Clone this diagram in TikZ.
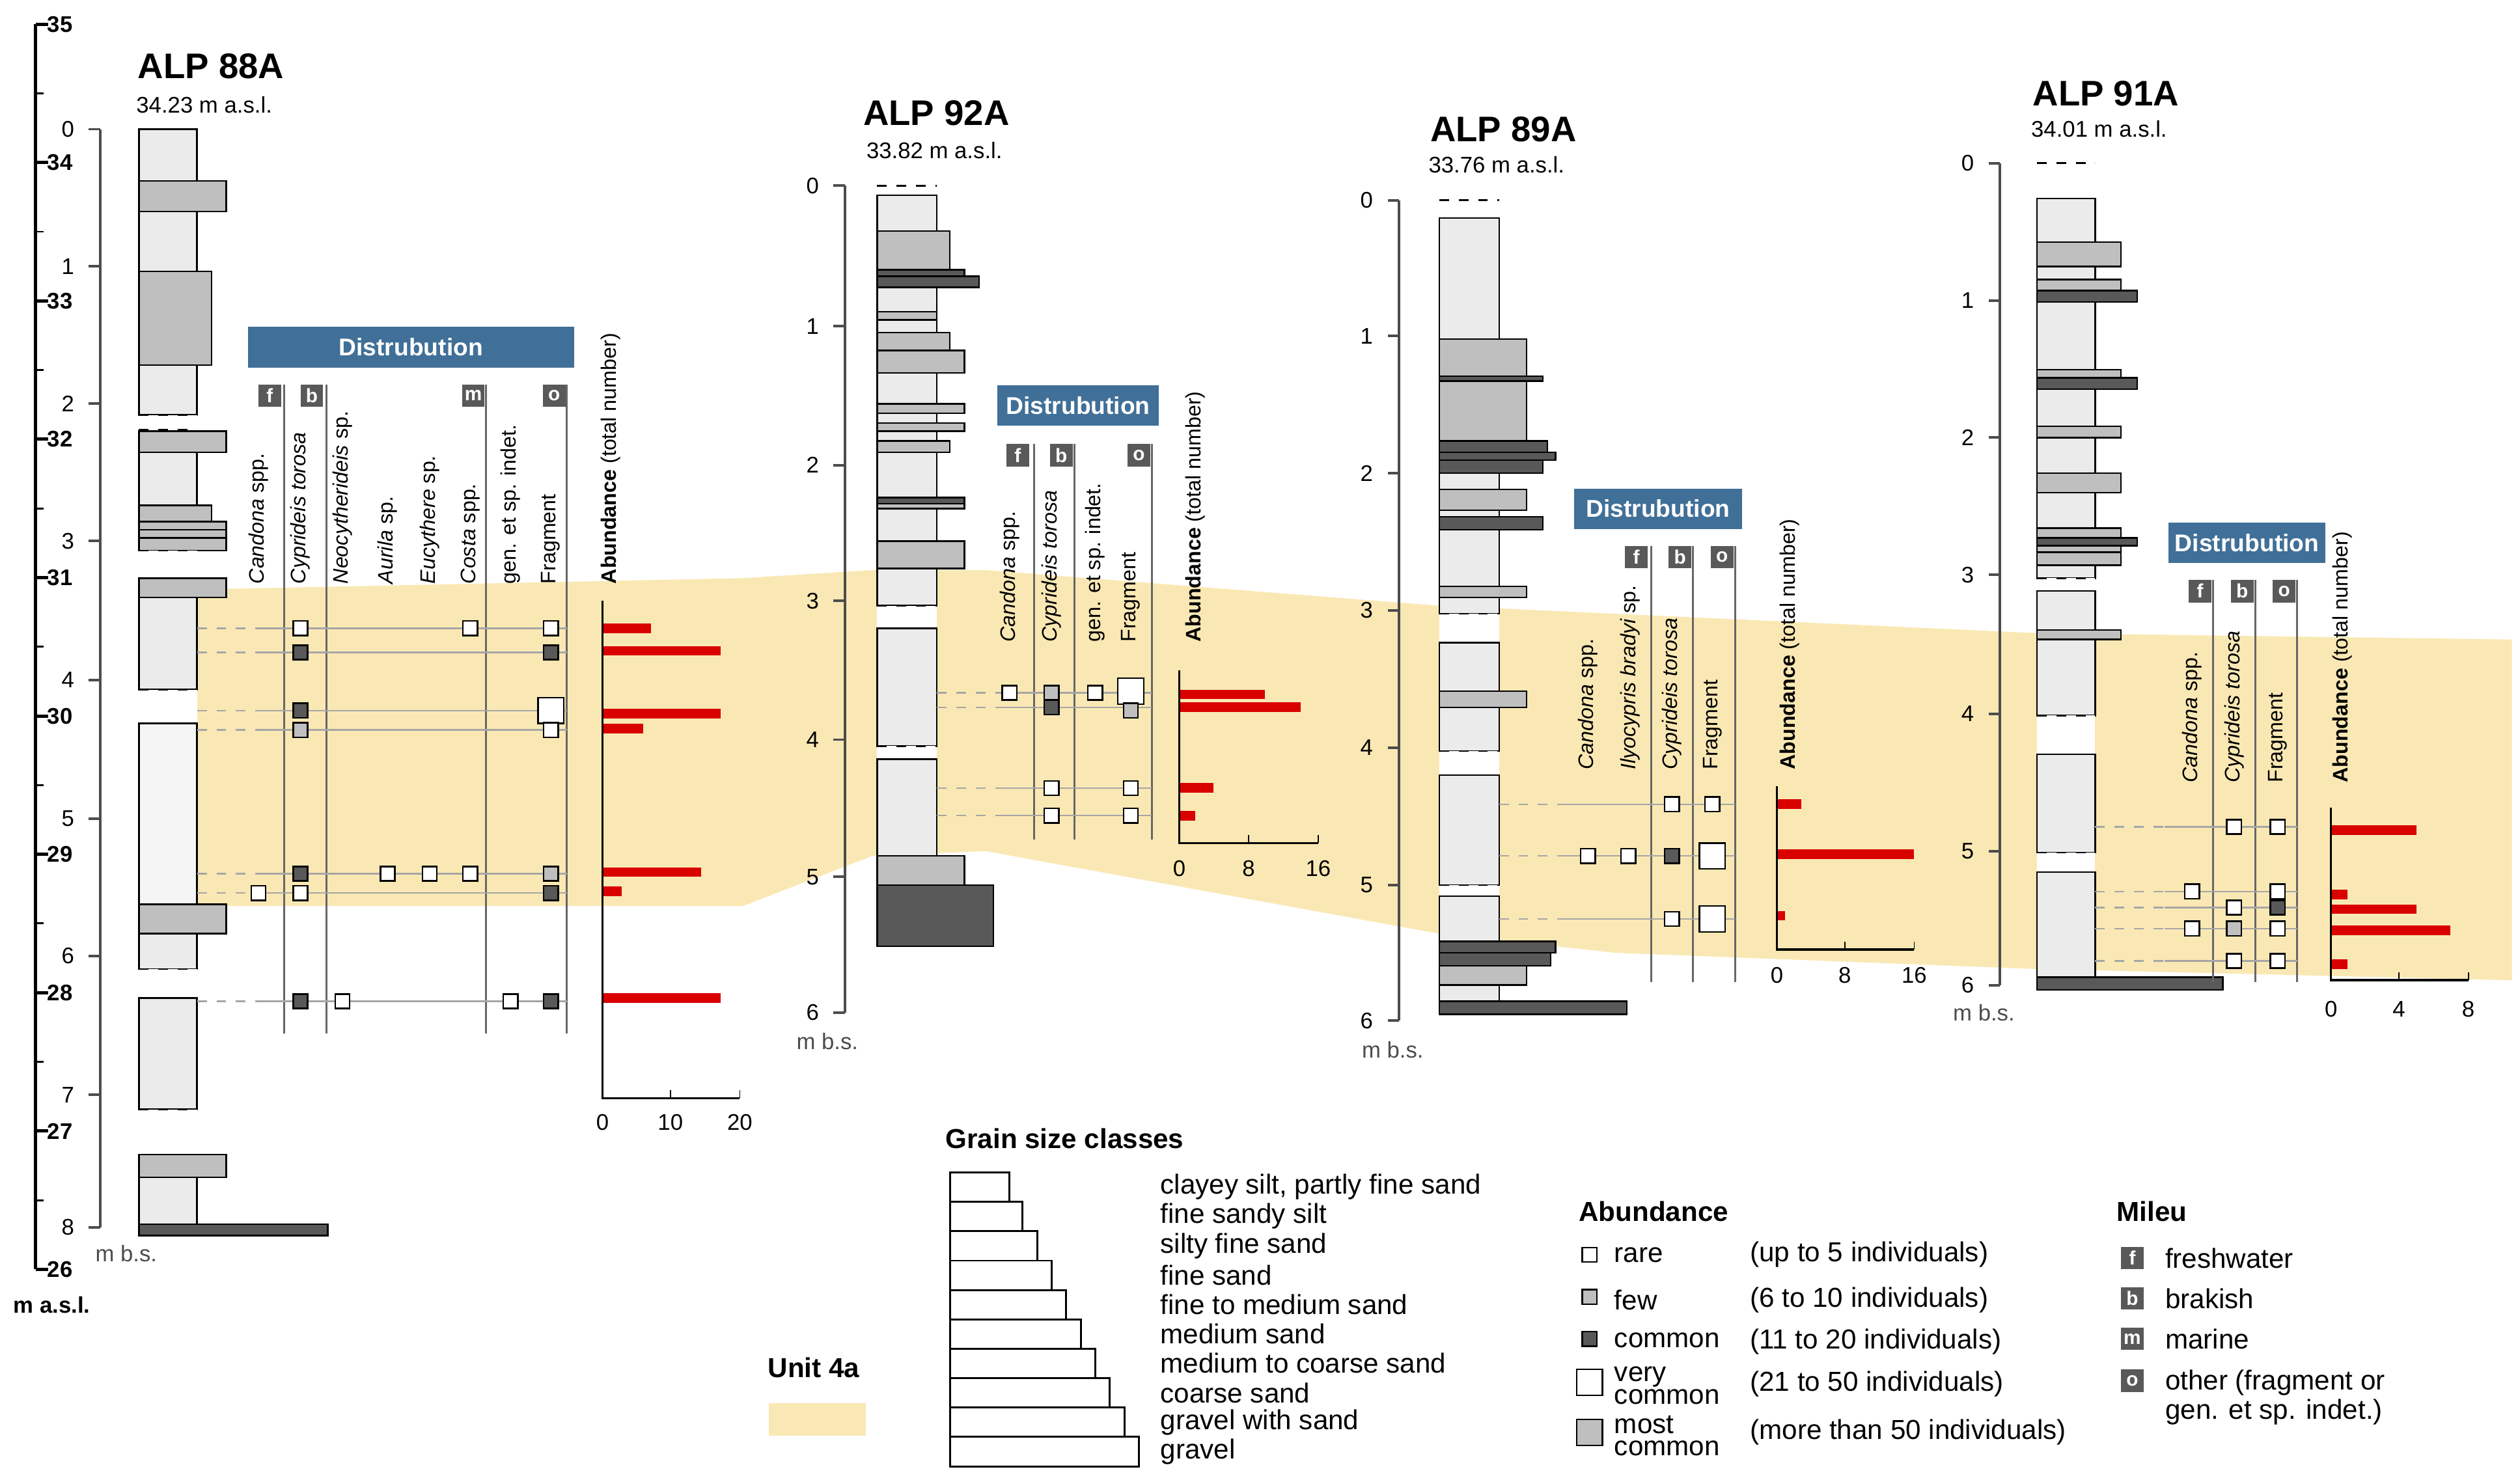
\documentclass[tikz,border=0pt]{standalone}
\usepackage{fontspec}
\setmainfont{Liberation Sans}
\begin{document}
\begin{tikzpicture}[x=0.5pt,y=-0.5pt,
 lay/.style={draw=black,line width=0.5pt},
 ban/.style={fill=blue!30!teal!70!black!75!white,text=white,font=\bfseries\fontsize{7.5}{8}\selectfont,anchor=west,inner sep=2pt},
 badge/.style={fill=black!65,text=white,font=\bfseries\fontsize{6}{6}\selectfont,minimum size=7pt,inner sep=0pt},
 clab/.style={rotate=90,anchor=west,font=\itshape\fontsize{6.5}{7}\selectfont,inner sep=0pt},
 alab/.style={rotate=90,anchor=west,font=\fontsize{6.5}{7}\selectfont,inner sep=0pt},
 vl/.style={black!60,line width=0.6pt},
 rare/.style={draw=black,fill=white,minimum size=4.5pt,inner sep=0pt,line width=0.5pt},
 few/.style={rare,fill=black!25},
 com/.style={rare,fill=black!65},
 vc/.style={rare,minimum size=8pt},
 mc/.style={vc,fill=black!25},
 bar/.style={fill=red!85!black,draw=none},
 ax/.style={black!70,line width=0.8pt},
 tl/.style={font=\fontsize{7}{8}\selectfont},
 ttl/.style={font=\bfseries\fontsize{11}{12}\selectfont,anchor=west,inner sep=0pt},
 sub/.style={font=\fontsize{7}{8}\selectfont,anchor=west,inner sep=0pt},
 leg/.style={font=\fontsize{8.5}{9}\selectfont,anchor=west,inner sep=0pt}]
\useasboundingbox (0,0) rectangle (1560,915);
\colorlet{lt}{black!8}
\colorlet{md}{black!25}
\colorlet{dk}{black!65}
\definecolor{yel}{HTML}{FAE8B4}
\newcommand\ly[4]{\draw[lay,fill=#4] (\cX,#1) rectangle (#3,#2);}
\newcommand\gp[2]{\fill[white] (\cX,#1) rectangle (\cR,#2);\draw[dashed,line width=0.5pt] (\cX,#1)--(\cR,#1) (\cX,#2)--(\cR,#2);}
\newcommand\rw[4]{\draw[black!35,dashed,line width=0.5pt] (#1,#3)--(#2,#3);\draw[black!35,line width=0.5pt] (#2,#3)--(#4,#3);}
\newcommand\br[3]{\fill[bar] (#1,#3-3) rectangle (#2,#3+3);}
% band
\fill[yel] (122,365)--(460,358)--(540,353)--(610,353)--(890,375)--(1260,392)--(1555,396)--(1555,607)--(1260,600)--(1000,590)--(890,578)--(610,527)--(540,530)--(460,561)--(122,561)--cycle;
% elevation axis
\draw[black,line width=1pt] (22,15)--(22,786);
\foreach \v [count=\i from 0] in {35,34,33,32,31,30,29,28,27,26}{
 \draw[black,line width=1pt] (22,15+85.67*\i)--(30,15+85.67*\i);
 \node[font=\bfseries\fontsize{7}{8}\selectfont,anchor=west,inner sep=0pt] at (29,{15+85.67*\i}) {\v};}
\foreach \i in {0,...,8}{\draw[black,line width=0.6pt] (22,{15+85.67*\i+42.8})--(27,{15+85.67*\i+42.8});}
\node[font=\bfseries\fontsize{7}{8}\selectfont,anchor=west,inner sep=0pt] at (8,808) {m a.s.l.};

% ===== ALP 88A
\node[ttl] (t88) at (85,41) {ALP 88A};
\node[sub] (s88) at (84,65) {34.23 m a.s.l.};
\draw[ax] (62,80)--(62,760);
\foreach \d/\y in {0/80,1/165,2/250,3/335,4/421,5/507,6/592,7/678,8/760}{\draw[ax] (55,\y)--(62,\y); \node[tl,anchor=east] at (53,\y) {\d};}
\node[tl,anchor=west,text=black!70] at (52,776) {m b.s.};
\def\cX{86}\def\cR{122}
\ly{80}{112}{122}{lt}\ly{112}{131}{140}{md}\ly{131}{168}{122}{lt}\ly{168}{226}{131}{md}\ly{226}{257}{122}{lt}\gp{257}{266}
\ly{267}{280}{140}{md}\ly{280}{313}{122}{lt}\ly{313}{323}{131}{md}\ly{323}{328}{140}{md}\ly{328}{333}{140}{md}\ly{333}{341}{140}{md}\gp{341}{358}
\ly{358}{370}{140}{md}\ly{370}{427}{122}{lt}\gp{427}{448}\ly{448}{560}{122}{black!4}\ly{560}{578}{140}{md}\ly{578}{600}{122}{lt}\gp{600}{618}
\ly{618}{687}{122}{lt}\gp{687}{715}\ly{715}{729}{140}{md}\ly{729}{758}{122}{lt}\ly{758}{765}{203}{dk}
\node[ban,minimum width=101pt,minimum height=12.5pt] (b88) at (153,215) {Distrubution};
\node[clab] at (160,362) {Candona\upshape{} spp.};
\node[clab] at (186,362) {Cyprideis torosa};
\node[clab] at (212,362) {Neocytherideis\upshape{} sp.};
\node[clab] at (240,362) {Aurila\upshape{} sp.};
\node[clab] at (266,362) {Eucythere\upshape{} sp.};
\node[clab] at (291,362) {Costa\upshape{} spp.};
\node[alab] at (316,362) {gen. et sp. indet.};
\node[alab] at (341,362) {Fragment};
\node[alab] at (378,362) {\textbf{Abundance} (total number)};
\foreach \x/\l in {167/f,193/b,293/m,343/o}{\node[badge] at (\x,245) {\l};}
\foreach \x in {176,202,301,351}{\draw[vl] (\x,238)--(\x,640);}
\foreach \y in {389,404,440,452,541,553,620}{\rw{122}{160}{\y}{351}}
\node[rare] at (186,389){};\node[rare] at (291,389){};\node[rare] at (341,389){};
\node[com] at (186,404){};\node[com] at (341,404){};
\node[com] at (186,440){};\node[vc] at (341,440){};
\node[few] at (186,452){};\node[rare] at (341,452){};
\node[com] at (186,541){};\node[rare] at (240,541){};\node[rare] at (266,541){};\node[rare] at (291,541){};\node[few] at (341,541){};
\node[rare] at (160,553){};\node[rare] at (186,553){};\node[com] at (341,553){};
\node[com] at (186,620){};\node[rare] at (212,620){};\node[rare] at (316,620){};\node[com] at (341,620){};
\br{373}{403}{389}\br{373}{446}{403}\br{373}{446}{442}\br{373}{398}{451}\br{373}{434}{540}\br{373}{385}{552}\br{373}{446}{618}
\draw[black,line width=0.7pt] (373,372)--(373,680)--(458,680);
\foreach \x/\l in {373/0,415/10,458/20}{\draw (\x,680)--(\x,675);\node[tl] at (\x,695) {\l};}

% ===== ALP 92A
\node[ttl] at (534,70) {ALP 92A};
\node[sub] at (536,93) {33.82 m a.s.l.};
\draw[ax] (523,115)--(523,627);
\foreach \d/\y in {0/115,1/202,2/288,3/372,4/458,5/543,6/627}{\draw[ax] (516,\y)--(523,\y); \node[tl,anchor=east] at (514,\y) {\d};}
\node[tl,anchor=west,text=black!70] at (486,645) {m b.s.};
\def\cX{543}\def\cR{580}
\gp{115}{121}\ly{121}{143}{580}{lt}\ly{143}{167}{588}{md}\ly{167}{171}{597}{dk}\ly{171}{178}{606}{dk}\ly{178}{193}{580}{lt}\ly{193}{198}{580}{md}\ly{198}{206}{580}{lt}
\ly{206}{217}{588}{md}\ly{217}{231}{597}{md}\ly{231}{250}{580}{lt}\ly{250}{256}{597}{md}\ly{256}{262}{580}{lt}\ly{262}{267}{597}{md}\ly{267}{273}{580}{lt}
\ly{273}{280}{588}{md}\ly{280}{308}{580}{lt}\ly{308}{312}{597}{dk}\ly{312}{315}{597}{md}\ly{315}{335}{580}{lt}\ly{335}{352}{597}{md}\ly{352}{375}{580}{lt}\gp{375}{389}
\ly{389}{462}{580}{lt}\gp{462}{470}\ly{470}{530}{580}{lt}\ly{530}{548}{597}{md}\ly{548}{586}{615}{dk}
\node[ban,minimum width=50pt,minimum height=12.5pt] (b92) at (617,251) {Distrubution};
\node[clab] at (625,398) {Candona\upshape{} spp.};
\node[clab] at (651,398) {Cyprideis torosa};
\node[alab] at (678,398) {gen. et sp. indet.};
\node[alab] at (700,398) {Fragment};
\node[alab] at (740,398) {\textbf{Abundance} (total number)};
\foreach \x/\l in {630/f,657/b,705/o}{\node[badge] at (\x,282) {\l};}
\foreach \x in {640,665,713}{\draw[vl] (\x,275)--(\x,520);}
\foreach \y in {429,438,488,505}{\rw{580}{620}{\y}{713}}
\node[rare] at (625,429){};\node[few] at (651,429){};\node[rare] at (678,429){};\node[vc] at (700,428){};
\node[com] at (651,438){};\node[few] at (700,440){};
\node[rare] at (651,488){};\node[rare] at (700,488){};
\node[rare] at (651,505){};\node[rare] at (700,505){};
\br{730}{783}{430}\br{730}{805}{438}\br{730}{751}{488}\br{730}{740}{505}
\draw[black,line width=0.7pt] (730,415)--(730,522)--(816,522);
\foreach \x/\l in {730/0,773/8,816/16}{\draw (\x,522)--(\x,517);\node[tl] at (\x,538) {\l};}

% ===== ALP 89A
\node[ttl] at (885,80) {ALP 89A};
\node[sub] at (884,102) {33.76 m a.s.l.};
\draw[ax] (866,124)--(866,632);
\foreach \d/\y in {0/124,1/208,2/293,3/378,4/463,5/548,6/632}{\draw[ax] (859,\y)--(866,\y); \node[tl,anchor=east] at (857,\y) {\d};}
\node[tl,anchor=west,text=black!70] at (836,650) {m b.s.};
\def\cX{891}\def\cR{928}
\gp{124}{135}\ly{135}{210}{928}{lt}\ly{210}{233}{945}{md}\ly{233}{236}{955}{dk}\ly{236}{273}{945}{md}\ly{273}{280}{958}{dk}\ly{280}{285}{963}{dk}\ly{285}{293}{955}{dk}
\ly{293}{303}{928}{lt}\ly{303}{316}{945}{md}\ly{316}{320}{928}{lt}\ly{320}{328}{955}{dk}\ly{328}{363}{928}{lt}\ly{363}{370}{945}{md}\ly{370}{380}{928}{lt}\gp{380}{398}
\ly{398}{428}{928}{lt}\ly{428}{438}{945}{md}\ly{438}{465}{928}{lt}\gp{465}{480}\ly{480}{548}{928}{lt}\gp{548}{555}\ly{555}{583}{928}{lt}
\ly{583}{590}{963}{dk}\ly{590}{598}{960}{dk}\ly{598}{610}{945}{md}\ly{610}{620}{928}{lt}\ly{620}{628}{1007}{dk}
\node[ban,minimum width=52pt,minimum height=12.5pt] (b89) at (974,315) {Distrubution};
\node[clab] at (983,477) {Candona\upshape{} spp.};
\node[clab] at (1009,477) {Ilyocypris bradyi\upshape{} sp.};
\node[clab] at (1035,477) {Cyprideis torosa};
\node[alab] at (1060,477) {Fragment};
\node[alab] at (1108,477) {\textbf{Abundance} (total number)};
\foreach \x/\l in {1013/f,1040/b,1066/o}{\node[badge] at (\x,345) {\l};}
\foreach \x in {1022,1048,1074}{\draw[vl] (\x,338)--(\x,608);}
\foreach \y in {498,530,569}{\rw{928}{970}{\y}{1074}}
\node[rare] at (1035,498){};\node[rare] at (1060,498){};
\node[rare] at (983,530){};\node[rare] at (1008,530){};\node[com] at (1035,530){};\node[vc] at (1060,530){};
\node[rare] at (1035,569){};\node[vc] at (1060,569){};
\br{1100}{1115}{498}\br{1100}{1185}{529}\br{1100}{1105}{567}
\draw[black,line width=0.7pt] (1100,487)--(1100,588)--(1185,588);
\foreach \x/\l in {1100/0,1142/8,1185/16}{\draw (\x,588)--(\x,583);\node[tl] at (\x,604) {\l};}

% ===== ALP 91A
\node[ttl] at (1258,58) {ALP 91A};
\node[sub] at (1257,80) {34.01 m a.s.l.};
\draw[ax] (1238,101)--(1238,610);
\foreach \d/\y in {0/101,1/186,2/271,3/356,4/442,5/527,6/610}{\draw[ax] (1231,\y)--(1238,\y); \node[tl,anchor=east] at (1229,\y) {\d};}
\node[tl,anchor=west,text=black!70] at (1202,627) {m b.s.};
\def\cX{1261}\def\cR{1297}
\gp{101}{123}\ly{123}{150}{1297}{lt}\ly{150}{165}{1313}{md}\ly{165}{173}{1297}{lt}\ly{173}{180}{1313}{md}\ly{180}{187}{1323}{dk}\ly{187}{229}{1297}{lt}
\ly{229}{234}{1313}{md}\ly{234}{241}{1323}{dk}\ly{241}{264}{1297}{lt}\ly{264}{271}{1313}{md}\ly{271}{293}{1297}{lt}\ly{293}{305}{1313}{md}\ly{305}{327}{1297}{lt}
\ly{327}{333}{1313}{md}\ly{333}{338}{1323}{dk}\ly{338}{342}{1313}{md}\ly{342}{350}{1313}{md}\ly{350}{358}{1297}{lt}\gp{358}{366}\ly{366}{390}{1297}{lt}
\ly{390}{396}{1313}{md}\ly{396}{443}{1297}{lt}\gp{443}{467}\ly{467}{528}{1297}{lt}\gp{528}{540}\ly{540}{605}{1297}{lt}\ly{605}{613}{1376}{dk}
\node[ban,minimum width=44pt,minimum height=12.5pt] (b91) at (1342,336) {Distrubution};
\node[clab] at (1357,485) {Candona\upshape{} spp.};
\node[clab] at (1383,485) {Cyprideis torosa};
\node[alab] at (1410,485) {Fragment};
\node[alab] at (1450,485) {\textbf{Abundance} (total number)};
\foreach \x/\l in {1362/f,1388/b,1414/o}{\node[badge] at (\x,366) {\l};}
\foreach \x in {1370,1396,1422}{\draw[vl] (\x,359)--(\x,608);}
\foreach \y in {512,552,562,575,595}{\rw{1297}{1340}{\y}{1422}}
\node[rare] at (1383,512){};\node[rare] at (1410,512){};
\node[rare] at (1357,552){};\node[rare] at (1410,552){};
\node[rare] at (1383,562){};\node[com] at (1410,562){};
\node[rare] at (1357,575){};\node[few] at (1383,575){};\node[rare] at (1410,575){};
\node[rare] at (1383,595){};\node[rare] at (1410,595){};
\br{1443}{1496}{514}\br{1443}{1453}{554}\br{1443}{1496}{563}\br{1443}{1517}{576}\br{1443}{1453}{597}
\draw[black,line width=0.7pt] (1443,500)--(1443,607)--(1528,607);
\foreach \x/\l in {1443/0,1485/4,1528/8}{\draw (\x,607)--(\x,602);\node[tl] at (\x,625) {\l};}

% ===== legends
\node[leg,font=\bfseries\fontsize{8.5}{9}\selectfont] at (585,705) {Grain size classes};
\foreach \r/\t [count=\i from 0] in {625/{clayey silt, partly fine sand},633/fine sandy silt,642/silty fine sand,651/fine sand,660/fine to medium sand,669/medium sand,678/medium to coarse sand,687/coarse sand,696/gravel with sand,705/gravel}{
 \draw[line width=0.6pt,fill=white] (588,{726+18.2*\i}) rectangle (\r,{726+18.2*(\i+1)});
 \node[leg] at (718,{735+18.2*\i}) {\t};}
\node[leg,font=\bfseries\fontsize{8.5}{9}\selectfont] at (475,847) {Unit 4a};
\fill[yel] (476,869) rectangle (536,889);
\node[leg,font=\bfseries\fontsize{8.5}{9}\selectfont] at (977,750) {Abundance};
\node[rare] at (984,777){};\node[leg] at (999,777) {rare};\node[leg] at (1083,777) {(up to 5 individuals)};
\node[few] at (984,803){};\node[leg] at (999,805) {few};\node[leg] at (1083,805) {(6 to 10 individuals)};
\node[com] at (984,829){};\node[leg] at (999,830) {common};\node[leg] at (1083,831) {(11 to 20 individuals)};
\node[vc] at (984,856){};\node[leg,align=left] at (999,858) {very\\[-2pt]common};\node[leg] at (1083,857) {(21 to 50 individuals)};
\node[mc] at (984,887){};\node[leg,align=left] at (999,889) {most\\[-2pt]common};\node[leg] at (1083,887) {(more than 50 individuals)};
\node[leg,font=\bfseries\fontsize{8.5}{9}\selectfont] at (1310,750) {Mileu};
\foreach \y/\l/\t in {779/f/freshwater,804/b/brakish,829/m/marine}{\node[badge] at (1320,\y) {\l};\node[leg] at (1340,\y) {\t};}
\node[badge] at (1320,855) {o};
\node[leg,align=left,anchor=north west] at (1340,848) {other (fragment or\\gen. et sp. indet.)};
\end{tikzpicture}
\end{document}
